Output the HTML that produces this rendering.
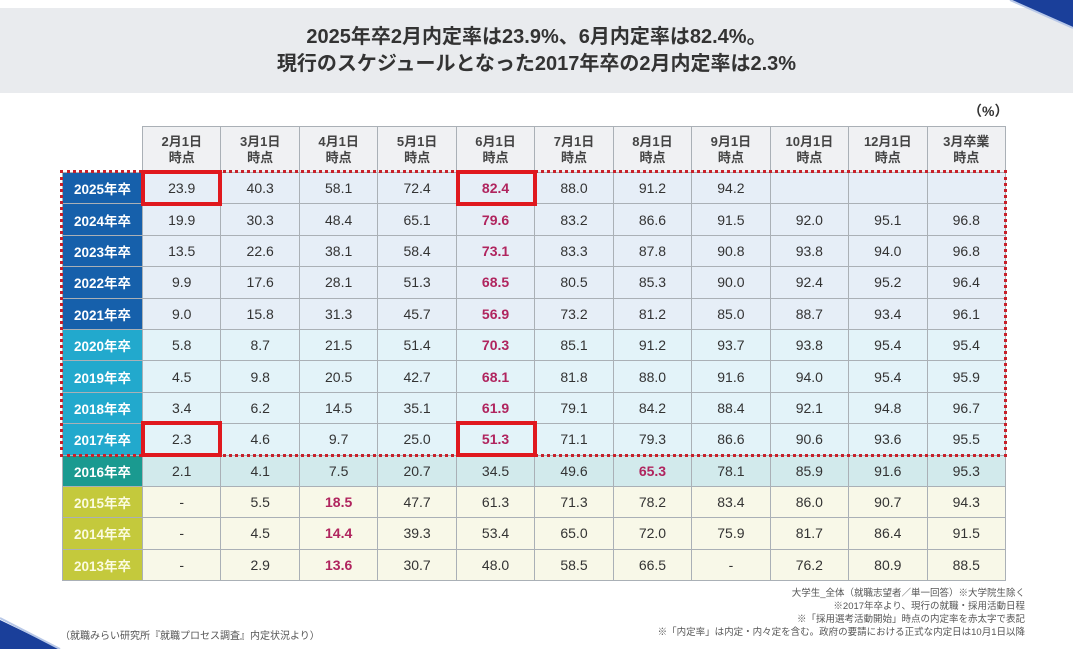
<!DOCTYPE html>
<html><head><meta charset="utf-8">
<style>
*{margin:0;padding:0;box-sizing:border-box}
body{width:1073px;height:649px;background:#fff;position:relative;overflow:hidden;font-family:"Liberation Sans","Noto Sans CJK JP",sans-serif;}
.title{position:absolute;left:0;top:8px;width:1073px;height:85px;background:#e9ebee;text-align:center;color:#333;font-size:20px;font-weight:bold;line-height:27px;padding-top:16px;}
.unit{position:absolute;left:968px;top:101px;font-size:14px;color:#333;font-weight:bold}
table{position:absolute;left:62px;top:126px;width:944px;border-collapse:collapse;table-layout:fixed}
td,th{border:1px solid #aab0b6;text-align:center;font-size:14px;color:#333;height:31.4px;}
th{background:#f0f1f3;height:46px;font-weight:bold;font-size:13px;line-height:16px;color:#444}
th.e{background:#fff;border:none}
td.l{color:#fff;font-weight:bold;font-size:13.5px;border-color:#aab0b6}
.b td.l{background:#1660ab}.b td{background:#e6eef7}
.c td.l{background:#22a9cd}.c td{background:#e3f3f9}
.t td.l{background:#1a9a90}.t td{background:#d2eaec}
.o td.l{background:#c4c93c;color:#fbfbe0}.o td{background:#f8f8e8}
.r{color:#b0245e;font-weight:bold}
.box{position:absolute;border:4px solid #e0181e}
.dot{position:absolute;left:60px;top:170px;width:947px;height:287px;border:3px dotted #c8202a}
.note{position:absolute;right:48px;top:587px;text-align:right;font-size:9.5px;line-height:13px;color:#555}
.src{position:absolute;left:60px;top:627px;font-size:10px;color:#555}
</style></head><body>
<div class="title">2025年卒2月内定率は23.9%、6月内定率は82.4%。<br>現行のスケジュールとなった2017年卒の2月内定率は2.3%</div>
<svg style="position:absolute;left:0;top:0" width="1073" height="649">
<polygon points="1010,0 1073,0 1073,28" fill="#1a3f9a"/><polyline points="1010,0 1073,28" stroke="#b8c8e8" stroke-width="2" fill="none"/>
<polygon points="0,620 60,649 0,649" fill="#1a3f9a"/><polyline points="0,618 60,649" stroke="#b8c8e8" stroke-width="2" fill="none"/>
</svg>
<div class="unit">（%）</div>
<table>
<colgroup><col style="width:80px"><col span="11"></colgroup>
<tr><th class="e"></th><th>2月1日<br>時点</th><th>3月1日<br>時点</th><th>4月1日<br>時点</th><th>5月1日<br>時点</th><th>6月1日<br>時点</th><th>7月1日<br>時点</th><th>8月1日<br>時点</th><th>9月1日<br>時点</th><th>10月1日<br>時点</th><th>12月1日<br>時点</th><th>3月卒業<br>時点</th></tr>
<tr class="b"><td class="l">2025年卒</td><td>23.9</td><td>40.3</td><td>58.1</td><td>72.4</td><td class="r">82.4</td><td>88.0</td><td>91.2</td><td>94.2</td><td></td><td></td><td></td></tr>
<tr class="b"><td class="l">2024年卒</td><td>19.9</td><td>30.3</td><td>48.4</td><td>65.1</td><td class="r">79.6</td><td>83.2</td><td>86.6</td><td>91.5</td><td>92.0</td><td>95.1</td><td>96.8</td></tr>
<tr class="b"><td class="l">2023年卒</td><td>13.5</td><td>22.6</td><td>38.1</td><td>58.4</td><td class="r">73.1</td><td>83.3</td><td>87.8</td><td>90.8</td><td>93.8</td><td>94.0</td><td>96.8</td></tr>
<tr class="b"><td class="l">2022年卒</td><td>9.9</td><td>17.6</td><td>28.1</td><td>51.3</td><td class="r">68.5</td><td>80.5</td><td>85.3</td><td>90.0</td><td>92.4</td><td>95.2</td><td>96.4</td></tr>
<tr class="b"><td class="l">2021年卒</td><td>9.0</td><td>15.8</td><td>31.3</td><td>45.7</td><td class="r">56.9</td><td>73.2</td><td>81.2</td><td>85.0</td><td>88.7</td><td>93.4</td><td>96.1</td></tr>
<tr class="c"><td class="l">2020年卒</td><td>5.8</td><td>8.7</td><td>21.5</td><td>51.4</td><td class="r">70.3</td><td>85.1</td><td>91.2</td><td>93.7</td><td>93.8</td><td>95.4</td><td>95.4</td></tr>
<tr class="c"><td class="l">2019年卒</td><td>4.5</td><td>9.8</td><td>20.5</td><td>42.7</td><td class="r">68.1</td><td>81.8</td><td>88.0</td><td>91.6</td><td>94.0</td><td>95.4</td><td>95.9</td></tr>
<tr class="c"><td class="l">2018年卒</td><td>3.4</td><td>6.2</td><td>14.5</td><td>35.1</td><td class="r">61.9</td><td>79.1</td><td>84.2</td><td>88.4</td><td>92.1</td><td>94.8</td><td>96.7</td></tr>
<tr class="c"><td class="l">2017年卒</td><td>2.3</td><td>4.6</td><td>9.7</td><td>25.0</td><td class="r">51.3</td><td>71.1</td><td>79.3</td><td>86.6</td><td>90.6</td><td>93.6</td><td>95.5</td></tr>
<tr class="t"><td class="l">2016年卒</td><td>2.1</td><td>4.1</td><td>7.5</td><td>20.7</td><td>34.5</td><td>49.6</td><td class="r">65.3</td><td>78.1</td><td>85.9</td><td>91.6</td><td>95.3</td></tr>
<tr class="o"><td class="l">2015年卒</td><td>-</td><td>5.5</td><td class="r">18.5</td><td>47.7</td><td>61.3</td><td>71.3</td><td>78.2</td><td>83.4</td><td>86.0</td><td>90.7</td><td>94.3</td></tr>
<tr class="o"><td class="l">2014年卒</td><td>-</td><td>4.5</td><td class="r">14.4</td><td>39.3</td><td>53.4</td><td>65.0</td><td>72.0</td><td>75.9</td><td>81.7</td><td>86.4</td><td>91.5</td></tr>
<tr class="o"><td class="l">2013年卒</td><td>-</td><td>2.9</td><td class="r">13.6</td><td>30.7</td><td>48.0</td><td>58.5</td><td>66.5</td><td>-</td><td>76.2</td><td>80.9</td><td>88.5</td></tr>
</table>
<div class="dot"></div>
<div class="box" style="left:141px;top:170px;width:81px;height:36px"></div>
<div class="box" style="left:456px;top:170px;width:81px;height:36px"></div>
<div class="box" style="left:141px;top:421px;width:81px;height:36px"></div>
<div class="box" style="left:456px;top:421px;width:81px;height:36px"></div>
<div class="note">大学生_全体（就職志望者／単一回答）※大学院生除く<br>※2017年卒より、現行の就職・採用活動日程<br>※「採用選考活動開始」時点の内定率を赤太字で表記<br>※「内定率」は内定・内々定を含む。政府の要請における正式な内定日は10月1日以降</div>
<div class="src">（就職みらい研究所『就職プロセス調査』内定状況より）</div>
</body></html>
